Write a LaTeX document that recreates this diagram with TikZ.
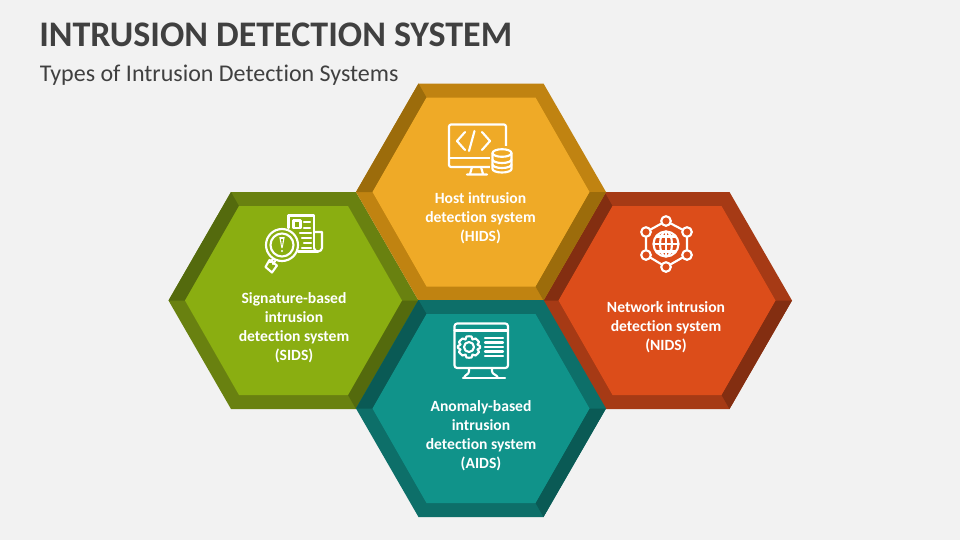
\documentclass[tikz,border=0pt]{standalone}
\usepackage{fontspec}
\setmainfont[RawFeature=-liga]{Carlito}
\definecolor{bg}{HTML}{F2F2F2}
\definecolor{tt}{HTML}{404040}
\definecolor{oa}{HTML}{EFAA27}\definecolor{ob}{HTML}{C08311}\definecolor{oc}{HTML}{9C6C0B}
\definecolor{ga}{HTML}{8AAE11}\definecolor{gb}{HTML}{698110}\definecolor{gc}{HTML}{546A0D}
\definecolor{ra}{HTML}{DC4D1A}\definecolor{rb}{HTML}{A63A15}\definecolor{rc}{HTML}{832E11}
\definecolor{ta}{HTML}{10938A}\definecolor{tb}{HTML}{0D6F69}\definecolor{tc}{HTML}{0A5A55}
\newcommand{\hexa}[5]{%
 \begin{scope}[shift={(#1,#2)}]
  \fill[#4] (-125,0)--(-62.5,-108.5)--(62.5,-108.5)--(125,0)--(62.5,108.5)--(-62.5,108.5)--cycle;
  \fill[#5] (-125,0)--(-62.5,-108.5)--(-54.5,-94.5)--(-108.5,0)--cycle;
  \fill[#5] (125,0)--(62.5,108.5)--(54.5,94.5)--(108.5,0)--cycle;
  \fill[#3] (-108.5,0)--(-54.5,-94.5)--(54.5,-94.5)--(108.5,0)--(54.5,94.5)--(-54.5,94.5)--cycle;
 \end{scope}}
\tikzset{
 x=0.75pt,y=-0.75pt,
 lbl/.style={text=white,align=center,font=\fontsize{11.7}{14.3}\selectfont\bfseries,inner sep=0pt},
 ico/.style={draw=white,line width=1.6pt,line join=round,line cap=round},
}
\begin{document}
\begin{tikzpicture}
\useasboundingbox (0,0) rectangle (960,540);
\fill[bg] (0,0) rectangle (960,540);
\node[anchor=base west,inner sep=0pt,text=tt,font=\fontsize{27}{32}\selectfont\bfseries] (title) at (39,46) {INTRUSION DETECTION SYSTEM};
\node[anchor=base west,inner sep=0pt,text=tt,font=\fontsize{18}{22}\selectfont] (sub) at (39.5,81) {Types of Intrusion Detection Systems};
\hexa{293.5}{300.5}{ga}{gb}{gc}
\hexa{667}{300.5}{ra}{rb}{rc}
\hexa{481}{192}{oa}{ob}{oc}
\hexa{481}{408.5}{ta}{tb}{tc}
\node[lbl] (hids) at (480.5,218.5) {Host intrusion\\detection system\\(HIDS)};
\node[lbl] (sids) at (294,327.5) {Signature-based\\intrusion\\detection system\\(SIDS)};
\node[lbl] (nids) at (666,327.5) {Network intrusion\\detection system\\(NIDS)};
\node[lbl] (aids) at (481,435.5) {Anomaly-based\\intrusion\\detection system\\(AIDS)};
% HIDS icon
\draw[ico,rounded corners=1.5] (449,124.5) rectangle (506,167);
\draw[ico] (449,158)--(506,158);
\draw[ico] (472,167)--(470,174) (481,167)--(483,174) (467,174.5)--(487,174.5);
\draw[ico] (465,132)--(457,141)--(465,150) (482,132)--(490,141)--(482,150) (474.5,131)--(469,151);
\fill[oa] (490,146) rectangle (514,175);
\draw[ico,fill=oa] (492.5,153)--(492.5,169) arc[start angle=180,end angle=0,x radius=9.5,y radius=3.5]--(511.5,153);
\draw[ico,fill=oa] (502,153) ellipse[x radius=9.5,y radius=3.8];
\draw[ico] (492.5,159.5) arc[start angle=180,end angle=0,x radius=9.5,y radius=3.5] (492.5,164.5) arc[start angle=180,end angle=0,x radius=9.5,y radius=3.5];
% SIDS icon
\draw[ico] (288.5,228)--(288.5,215.5)--(314,215.5)--(314,248);
\draw[ico] (314,232)--(322,232)--(322,248) arc[start angle=0,end angle=180,x radius=4,y radius=3.5];
\draw[ico] (318,251.5)--(298,251.5);
\draw[ico] (293.5,220.5) rectangle (300.5,228);
\draw[ico] (304,222)--(310,222) (304,228)--(310,228) (300,233)--(311,233) (302,238)--(311,238) (304,243)--(311,243) (302,248)--(311,248);
\draw[ico,fill=ga] (282,245) circle[radius=16];
\draw[ico] (282,245) circle[radius=11.5];
\fill[white] (279.3,237)--(284.7,237)--(282.6,248)--(281.4,248)--cycle;
\fill[ga] (281,239)--(283,239)--(282.2,245)--(281.8,245)--cycle;
\fill[white] (282,251) circle[radius=1.2];
\draw[ico] (273,259)--(270,262) (275,261)--(273,264);
\draw[ico] (269.5,260)--(277,265.5)--(272,272.5)--(265.5,267)--cycle;
% NIDS icon
\draw[ico] (666,221)--(687,232)--(687,255)--(666,267)--(646,255)--(646,232)--cycle;
\foreach \p in {(666,221),(687,232),(687,255),(666,267),(646,255),(646,232)}
  \draw[ico,fill=ra] \p circle[radius=4.8];
\fill[ra] (666,244) circle[radius=16];
\draw[ico] (666,244) circle[radius=12.5];
\draw[ico] (666,244) ellipse[x radius=6,y radius=12.5];
\draw[ico] (666,231.5)--(666,256.5) (653.5,244)--(678.5,244);
\draw[ico] (656,236.5)--(676,236.5) (656,251.5)--(676,251.5);
% AIDS icon
\draw[ico,rounded corners=2] (454.5,323.5) rectangle (508,368);
\draw[ico] (454.5,330.5)--(508,330.5);
\draw[ico] (469,368)--(469,371) .. controls (469,375) and (465,374) .. (464,378);
\draw[ico] (492,368)--(492,371) .. controls (492,375) and (497,374) .. (498,378);
\draw[ico] (463,378)--(505,378);
\draw[ico] (485,338)--(503,338) (485,342.5)--(503,342.5) (485,347)--(503,347) (485,351.5)--(503,351.5) (485,356)--(503,356);
\draw[ico] (469,347) circle[radius=5];
\draw[ico] plot[smooth cycle,tension=0.35] coordinates {
 (466.5,336.5)(471.5,336.5)(472.5,339.5)(475.5,338.5)(479,342)(477.5,344.5)(480,346)(480,348)(477.5,349.5)(479,352)(475.5,355.5)(472.5,354.5)(471.5,357.5)(466.5,357.5)(465.5,354.5)(462.5,355.5)(459,352)(460.5,349.5)(458,348)(458,346)(460.5,344.5)(459,342)(462.5,338.5)(465.5,339.5)};
\end{tikzpicture}
\end{document}
